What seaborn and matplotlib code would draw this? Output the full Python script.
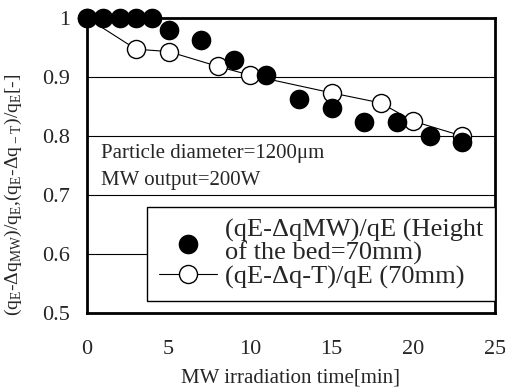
import numpy as np
import pandas as pd
import seaborn as sns
import matplotlib.pyplot as plt

# data
time_mw = [0, 1, 2, 3, 4, 5, 7, 9, 11, 13, 15, 17, 19, 21, 23]
ratio_mw = [1.0, 1.0, 1.0, 1.0, 1.0, 0.98, 0.963, 0.928, 0.903, 0.862, 0.847, 0.823, 0.823, 0.80, 0.79]

time_t = [0, 3, 5, 8, 10, 15, 18, 20, 23]
ratio_t = [1.0, 0.947, 0.943, 0.918, 0.903, 0.873, 0.856, 0.825, 0.80]

x_ticks = [0, 5, 10, 15, 20, 25]
y_ticks = [0.5, 0.6, 0.7, 0.8, 0.9, 1.0]
y_ticklabels = ["0.5", "0.6", "0.7", "0.8", "0.9", "1"]

sns.set_style("white")
plt.rcParams['font.family'] = ['Liberation Serif', 'DejaVu Serif']
plt.rcParams['mathtext.fontset'] = 'custom'
plt.rcParams['mathtext.rm'] = 'Liberation Serif'

df_mw = pd.DataFrame({"t": time_mw, "r": ratio_mw})
df_t = pd.DataFrame({"t": time_t, "r": ratio_t})

fig = plt.figure(figsize=(5.06, 3.89), dpi=100)
ax = fig.add_axes([0.172, 0.195, 0.806, 0.759])

for y in y_ticks[1:-1]:
    ax.axhline(y, color="black", lw=0.8, zorder=0)

sns.lineplot(data=df_t, x="t", y="r", ax=ax, color="black", lw=0.8,
             marker="o", markersize=13, markerfacecolor="white",
             markeredgecolor="black", markeredgewidth=1.0,
             label="(qE-\u0394q-T)/qE (70mm)", clip_on=False, zorder=3)
sns.scatterplot(data=df_mw, x="t", y="r", ax=ax, color="black", s=200,
                edgecolor="black", linewidth=0,
                label="(qE-\u0394qMW)/qE (Height\nof the bed=70mm)",
                clip_on=False, zorder=4)

ax.set_xlim(0, 25)
ax.set_ylim(0.5, 1.0)
ax.set_xticks(x_ticks)
ax.set_yticks(y_ticks)
ax.set_yticklabels(y_ticklabels)
ax.tick_params(axis="x", direction="in", length=5, width=1, pad=19, labelsize=16)
ax.tick_params(axis="y", length=0, pad=12, labelsize=16)
for s in ax.spines.values():
    s.set_linewidth(2)
    s.set_color("black")

ax.set_xlabel("MW irradiation time[min]", fontsize=15, labelpad=7)
ax.set_ylabel(r"(q$_{\rm E}$-$\Delta$q$_{\rm MW}$)/q$_{\rm E}$,(q$_{\rm E}$-$\Delta$q$_{\rm -T}$)/q$_{\rm E}$[-]",
              fontsize=14)
ax.yaxis.set_label_coords(-0.155, 0.4)

ax.text(0.035, 0.542, "Particle diameter=1200\u03bcm", transform=ax.transAxes,
        fontsize=15, va="center")
ax.text(0.035, 0.45, "MW output=200W", transform=ax.transAxes,
        fontsize=15, va="center")

h, l = ax.get_legend_handles_labels()
leg = ax.legend(h[::-1], l[::-1], loc="upper right", bbox_to_anchor=(1.0, 0.36),
                borderaxespad=0, fancybox=False, frameon=True, fontsize=19,
                handlelength=2.2, handletextpad=0.3, labelspacing=0.0,
                borderpad=0.45)
for t in leg.get_texts():
    t.set_linespacing(1.0)
leg.get_frame().set_edgecolor("black")
leg.get_frame().set_linewidth(1)
leg.get_frame().set_alpha(1)

fig.savefig("out.png", dpi=100)
